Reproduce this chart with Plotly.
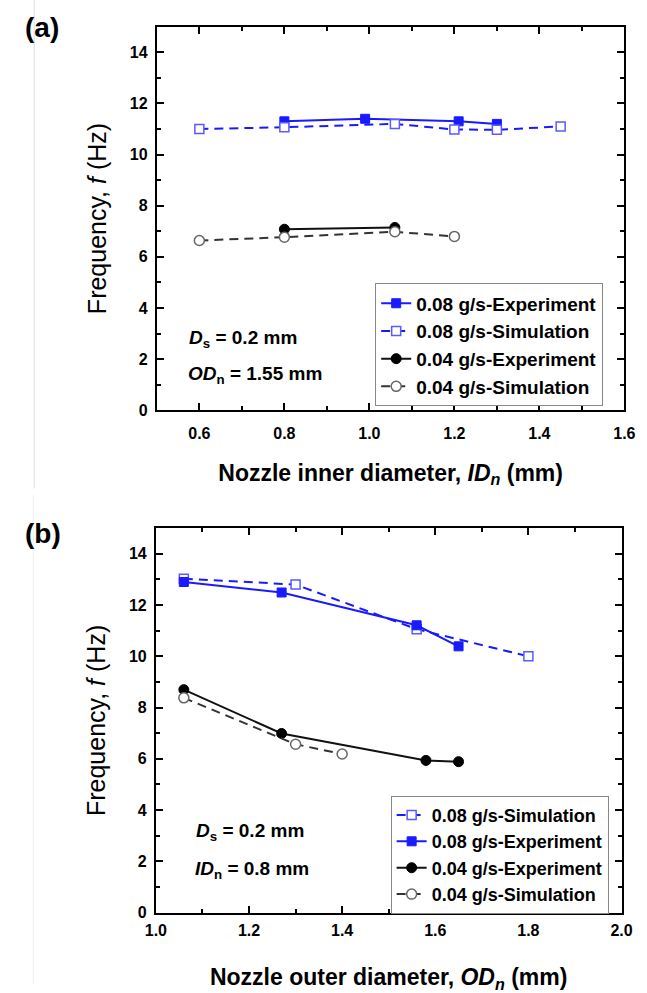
import plotly.graph_objects as go

W, H = 647, 993

# ---------------- data (a) ----------------
a_exp08_x = [0.80, 0.99, 1.21, 1.30]
a_exp08_y = [11.3, 11.4, 11.3, 11.2]
a_sim08_x = [0.60, 0.80, 1.06, 1.20, 1.30, 1.45]
a_sim08_y = [11.0, 11.07, 11.2, 10.98, 10.97, 11.1]
a_exp04_x = [0.80, 1.06]
a_exp04_y = [7.08, 7.15]
a_sim04_x = [0.60, 0.80, 1.06, 1.20]
a_sim04_y = [6.64, 6.77, 6.98, 6.80]

# ---------------- data (b) ----------------
b_sim08_x = [1.06, 1.30, 1.56, 1.80]
b_sim08_y = [13.03, 12.8, 11.06, 10.0]
b_exp08_x = [1.06, 1.27, 1.56, 1.65]
b_exp08_y = [12.9, 12.49, 11.21, 10.39]
b_exp04_x = [1.06, 1.27, 1.58, 1.65]
b_exp04_y = [8.70, 6.99, 5.94, 5.89]
b_sim04_x = [1.06, 1.30, 1.40]
b_sim04_y = [8.38, 6.57, 6.19]

lbl_exp08 = "0.08 g/s-Experiment"
lbl_sim08 = "0.08 g/s-Simulation"
lbl_exp04 = "0.04 g/s-Experiment"
lbl_sim04 = "0.04 g/s-Simulation"

FONT = "Arial, Liberation Sans, sans-serif"
BLUE = "#1a1aff"
BLUE_L = "#5a5aff"
DASH = "9px,6px"


def px(x):
    return x / W


def py(y):
    return 1 - y / H


def style(kind):
    if kind == "exp08":
        return dict(mode="lines+markers", line=dict(color=BLUE, width=2),
                    marker=dict(symbol="square", size=9, color=BLUE, line=dict(color=BLUE, width=1)))
    if kind == "sim08":
        return dict(mode="lines+markers", line=dict(color=BLUE, width=2, dash=DASH),
                    marker=dict(symbol="square", size=9, color="white", line=dict(color=BLUE_L, width=1.5)))
    if kind == "exp04":
        return dict(mode="lines+markers", line=dict(color="#111111", width=2),
                    marker=dict(symbol="circle", size=10, color="black", line=dict(color="black", width=1)))
    return dict(mode="lines+markers", line=dict(color="#333333", width=2, dash=DASH),
                marker=dict(symbol="circle", size=10, color="white", line=dict(color="#666666", width=1.5)))


fig = go.Figure()
# panel (a)
for xs, ys, name, kind in [(a_exp08_x, a_exp08_y, lbl_exp08, "exp08"),
                           (a_sim08_x, a_sim08_y, lbl_sim08, "sim08"),
                           (a_exp04_x, a_exp04_y, lbl_exp04, "exp04"),
                           (a_sim04_x, a_sim04_y, lbl_sim04, "sim04")]:
    fig.add_trace(go.Scatter(x=xs, y=ys, name=name, xaxis="x", yaxis="y", legend="legend", **style(kind)))
# panel (b)
for xs, ys, name, kind in [(b_sim08_x, b_sim08_y, lbl_sim08, "sim08"),
                           (b_exp08_x, b_exp08_y, lbl_exp08, "exp08"),
                           (b_exp04_x, b_exp04_y, lbl_exp04, "exp04"),
                           (b_sim04_x, b_sim04_y, lbl_sim04, "sim04")]:
    fig.add_trace(go.Scatter(x=xs, y=ys, name=name, xaxis="x2", yaxis="y2", legend="legend2", **style(kind)))

tickfont = dict(family=FONT, size=16, color="black", weight="bold")
common = dict(showline=True, linecolor="black", linewidth=2, mirror="allticks",
              ticks="inside", ticklen=7, tickwidth=1.5, tickcolor="black",
              showgrid=False, zeroline=False, tickfont=tickfont)

xt_a = "Nozzle inner diameter, <i>ID<sub>n</sub></i> (mm)"
xt_b = "Nozzle outer diameter, <i>OD<sub>n</sub></i> (mm)"
yt = "Frequency, <i>f</i> (Hz)"
xtitlefont = dict(family=FONT, size=23, color="black", weight="bold")
ytitlefont = dict(family=FONT, size=25, color="black")

fig.update_layout(
    width=W, height=H, margin=dict(l=0, r=0, t=0, b=0),
    paper_bgcolor="white", plot_bgcolor="white",
    xaxis=dict(domain=[px(151), px(635)], range=[0.5, 1.6], anchor="y",
               tick0=0.4, dtick=0.2, tickformat=".1f",
               minor=dict(dtick=0.1, ticks="inside", ticklen=4, tickcolor="black", tickwidth=1.5),
               title=dict(text=xt_a, font=xtitlefont, standoff=23), ticklabelstandoff=8, **common),
    yaxis=dict(domain=[py(414), py(27)], range=[0, 15], anchor="x",
               tick0=0, dtick=2,
               minor=dict(dtick=1, ticks="inside", ticklen=4, tickcolor="black", tickwidth=1.5),
               title=dict(text=yt, font=ytitlefont, standoff=16), ticklabelstandoff=4, **common),
    xaxis2=dict(domain=[px(150), px(632)], range=[1.0, 2.0], anchor="y2",
                tick0=1.0, dtick=0.2, tickformat=".1f",
                minor=dict(dtick=0.1, ticks="inside", ticklen=4, tickcolor="black", tickwidth=1.5),
                title=dict(text=xt_b, font=xtitlefont, standoff=36), ticklabelstandoff=2, **common),
    yaxis2=dict(domain=[py(921), py(533)], range=[0, 15], anchor="x2",
                tick0=0, dtick=2,
                minor=dict(dtick=1, ticks="inside", ticklen=4, tickcolor="black", tickwidth=1.5),
                title=dict(text=yt, font=ytitlefont, standoff=16), ticklabelstandoff=4, **common),
    legend=dict(x=px(377), y=py(286), xanchor="left", yanchor="top",
                bgcolor="white", bordercolor="#888888", borderwidth=1,
                font=dict(family=FONT, size=19, color="black", weight="bold"),
                tracegroupgap=0, itemwidth=30, traceorder="normal"),
    legend2=dict(x=px(393), y=py(803), xanchor="left", yanchor="top",
                 bgcolor="white", bordercolor="#888888", borderwidth=1,
                 font=dict(family=FONT, size=18, color="black", weight="bold"),
                 tracegroupgap=0, itemwidth=30, traceorder="normal"),
    showlegend=True,
)

annfont = dict(family=FONT, size=19, color="black", weight="bold")
anns = [
    dict(text="(a)", x=px(32), y=py(28), font=dict(family=FONT, size=28, color="black", weight="bold")),
    dict(text="(b)", x=px(33), y=py(538), font=dict(family=FONT, size=28, color="black", weight="bold")),
    dict(text="<i>D</i><sub>s</sub> = 0.2 mm", x=px(182), y=py(342), xanchor="left", font=annfont),
    dict(text="<i>OD</i><sub>n</sub> = 1.55 mm", x=px(181), y=py(378), xanchor="left", font=annfont),
    dict(text="<i>D</i><sub>s</sub> = 0.2 mm", x=px(189), y=py(840), xanchor="left", font=annfont),
    dict(text="<i>ID</i><sub>n</sub> = 0.8 mm", x=px(188), y=py(878), xanchor="left", font=annfont),
]
for a in anns:
    a.setdefault("xanchor", "center")
    fig.add_annotation(xref="paper", yref="paper", showarrow=False, yanchor="middle", **a)

# faint page-edge line seen in the reference
fig.add_shape(type="line", xref="paper", yref="paper", x0=px(24), x1=px(24), y0=py(493), y1=py(0),
              line=dict(color="#dddddd", width=1))
fig.add_shape(type="line", xref="paper", yref="paper", x0=px(23), x1=px(23), y0=py(993), y1=py(500),
              line=dict(color="#eeeeee", width=1))

fig.write_html("out.html")
